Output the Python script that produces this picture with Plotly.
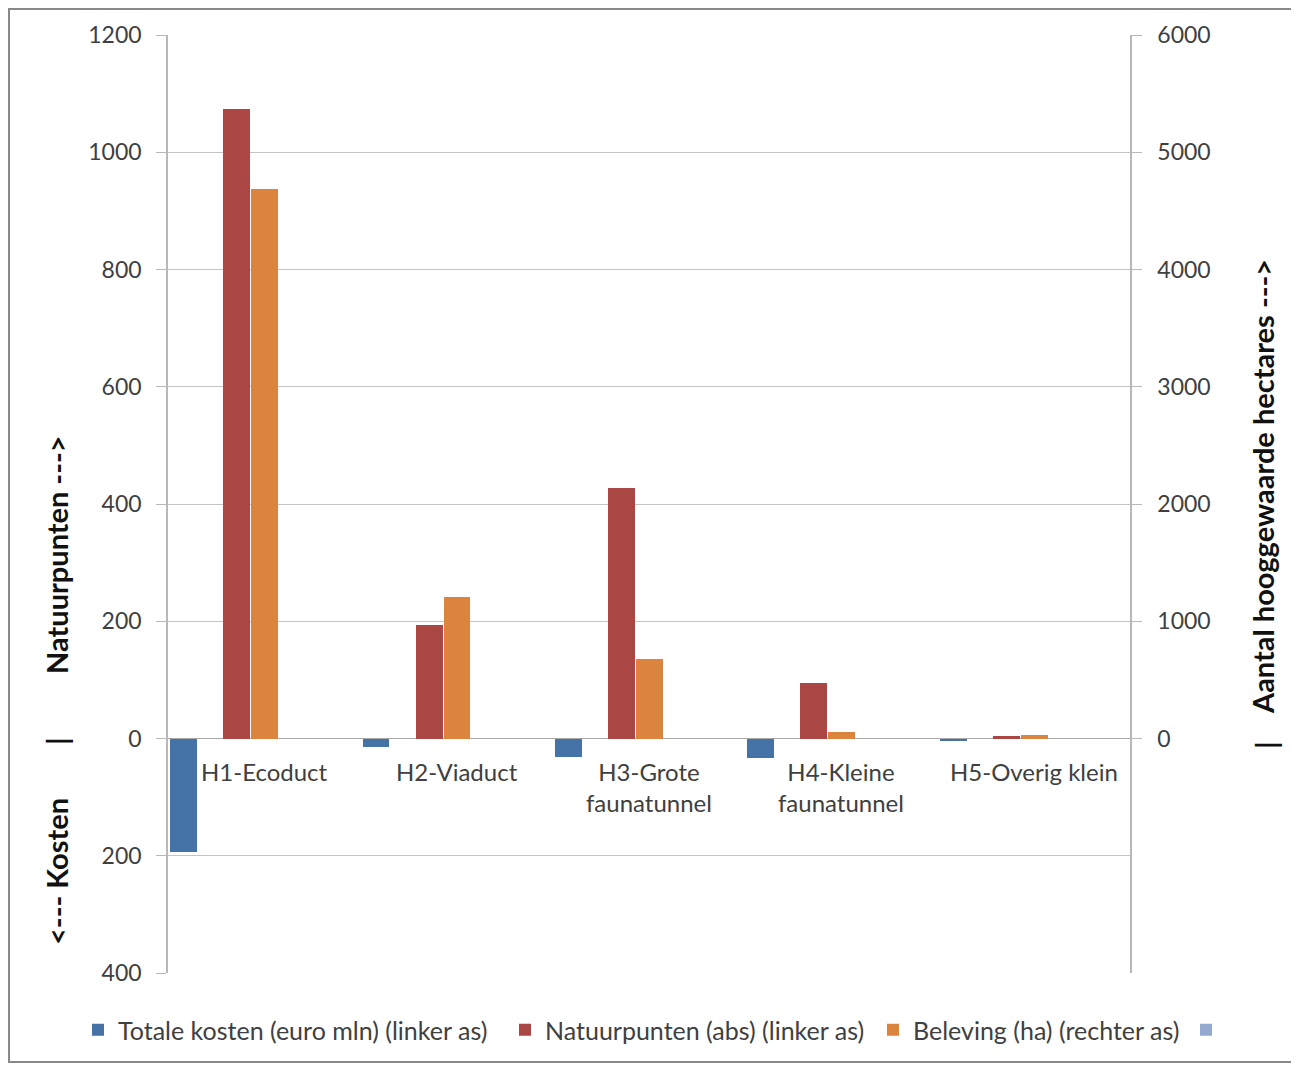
import plotly.graph_objects as go

categories = ["H1-Ecoduct", "H2-Viaduct", "H3-Grote<br>faunatunnel", "H4-Kleine<br>faunatunnel", "H5-Overig klein"]
kosten = [-194, -15, -32, -34, -4]          # euro mln, left axis (shown downward)
natuurpunten = [1073, 194, 427, 94, 5]      # left axis
beleving = [4690, 1210, 680, 52, 26]        # ha, right axis
extra = [0, 0, 0, 0, 0]                     # unlabeled 4th series

left_ticks = [-400, -200, 0, 200, 400, 600, 800, 1000, 1200]
left_ticktext = [str(abs(v)) for v in left_ticks]
right_ticks = [0, 1000, 2000, 3000, 4000, 5000, 6000]

OFF = 8  # page body margin
W, H = 1299 - OFF, 1066 - OFF
# plot area in screen pixels
L, R, T, B = 168, 1130, 35, 973

xs = list(range(len(categories)))
font_family = "Lato, 'Open Sans', sans-serif"
text_col = "#404040"
bw = 0.14

fig = go.Figure()
fig.add_trace(go.Bar(x=xs, y=kosten, name="Totale kosten (euro mln) (linker as)", legend="legend",
                     marker=dict(color="#4572A7", line=dict(width=0)), width=bw, offset=-0.489, yaxis="y"))
fig.add_trace(go.Bar(x=xs, y=natuurpunten, name="Natuurpunten (abs) (linker as)", legend="legend2",
                     marker=dict(color="#AA4643", line=dict(width=0)), width=bw, offset=-0.213, yaxis="y"))
fig.add_trace(go.Bar(x=xs, y=beleving, name="Beleving (ha) (rechter as)", legend="legend3",
                     marker=dict(color="#DB843D", line=dict(width=0)), width=bw, offset=-0.068, yaxis="y2"))
fig.add_trace(go.Bar(x=xs, y=extra, name=" ", legend="legend4",
                     marker=dict(color="#93A9CF", line=dict(width=0)), width=bw, offset=0.07, yaxis="y2"))

annotations = []
for i, c in enumerate(categories):
    annotations.append(dict(x=i, y=0, xref="x", yref="y", text=c, showarrow=False,
                            yanchor="top", yshift=-16, font=dict(size=24, color=text_col, family=font_family),
                            align="center"))

def px_x(p):
    return (p - L) / (R - L)

def px_y(p):
    return (B - p) / (B - T)

title_font = dict(size=29, color="#111111", family=font_family, weight="bold")
annotations += [
    dict(x=px_x(56), y=px_y(555), xref="paper", yref="paper", text="Natuurpunten --->", textangle=-90,
         showarrow=False, font=title_font, xanchor="center", yanchor="middle"),
    dict(x=px_x(56), y=px_y(741), xref="paper", yref="paper", text="|", textangle=-90,
         showarrow=False, font=title_font, xanchor="center", yanchor="middle"),
    dict(x=px_x(56), y=px_y(872), xref="paper", yref="paper", text="<--- Kosten", textangle=-90,
         showarrow=False, font=title_font, xanchor="center", yanchor="middle"),
    dict(x=px_x(1262), y=px_y(487), xref="paper", yref="paper", text="Aantal hooggewaarde hectares --->",
         textangle=-90, showarrow=False, font=title_font, xanchor="center", yanchor="middle"),
    dict(x=px_x(1265), y=px_y(745), xref="paper", yref="paper", text="|", textangle=-90,
         showarrow=False, font=title_font, xanchor="center", yanchor="middle"),
]

shapes = [dict(type="rect", xref="paper", yref="paper", x0=px_x(9), x1=px_x(1296), y0=px_y(1062), y1=px_y(9),
               line=dict(color="#888888", width=2), fillcolor="rgba(0,0,0,0)", layer="below")]

def legend_at(screen_x):
    return dict(orientation="h", xref="container", yref="container",
                x=(screen_x - OFF) / W, y=1 - (1030 - OFF) / H, xanchor="left", yanchor="middle",
                font=dict(size=25, color=text_col), itemwidth=30, bgcolor="rgba(0,0,0,0)")

fig.update_layout(
    width=W, height=H,
    margin=dict(l=L - OFF, r=W - (R - OFF), t=T - OFF, b=H - (B - OFF), pad=0, autoexpand=False),
    paper_bgcolor="white", plot_bgcolor="white",
    font=dict(family=font_family, size=23, color=text_col),
    barmode="overlay",
    bargap=0,
    showlegend=True,
    legend=legend_at(78),
    legend2=legend_at(505),
    legend3=legend_at(873),
    legend4=legend_at(1186),
    xaxis=dict(range=[-0.5, 4.5], showticklabels=False, showgrid=False, zeroline=False,
               showline=False, ticks="", fixedrange=True),
    yaxis=dict(range=[-400, 1200], tickvals=left_ticks, ticktext=left_ticktext,
               showgrid=True, gridcolor="#C4C4C4", gridwidth=1.3, zeroline=True, zerolinecolor="#A8A8A8",
               zerolinewidth=1.3,
               showline=True, linecolor="#B8B8B8", linewidth=1.5, ticks="outside", ticklen=10,
               tickcolor="#B8B8B8", tickwidth=1.3, ticklabelstandoff=10,
               tickfont=dict(size=23, color=text_col)),
    yaxis2=dict(range=[-2000, 6000], tickvals=right_ticks, overlaying="y", side="right",
                showgrid=False, zeroline=False, showline=True, linecolor="#B8B8B8", linewidth=1.5,
                ticks="outside", ticklen=10, tickcolor="#B8B8B8", tickwidth=1.3, ticklabelstandoff=11,
                tickfont=dict(size=23, color=text_col)),
    annotations=annotations,
    shapes=shapes,
)

fig.write_html("out.html")
